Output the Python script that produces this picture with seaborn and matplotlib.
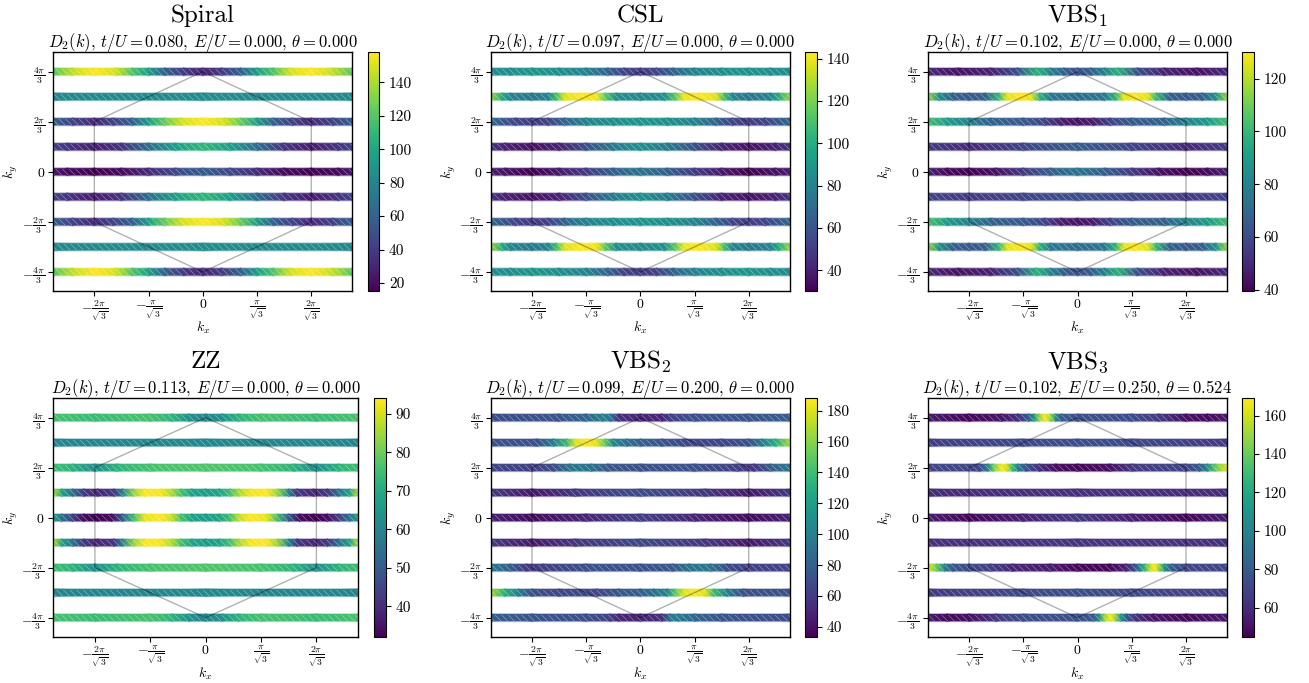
import numpy as np
import matplotlib
matplotlib.use("Agg")
import matplotlib.pyplot as plt
import seaborn as sns
from matplotlib.colors import Normalize
from matplotlib.patches import Rectangle
from matplotlib.cm import ScalarMappable
from matplotlib.ticker import FuncFormatter, MultipleLocator

# ---------------- data ----------------
U = np.pi / np.sqrt(3)          # kx unit used for the knots below (pi/sqrt(3))
ky_values = [4*np.pi/3, np.pi, 2*np.pi/3, np.pi/3, 0.0, -np.pi/3, -2*np.pi/3, -np.pi, -4*np.pi/3]

panel_names = ["Spiral", "CSL", "VBS$_1$", "ZZ", "VBS$_2$", "VBS$_3$"]
t_over_U = [0.080, 0.097, 0.102, 0.113, 0.099, 0.102]
E_over_U = [0.000, 0.000, 0.000, 0.000, 0.200, 0.250]
theta = [0.000, 0.000, 0.000, 0.000, 0.000, 0.524]
color_ranges = [(15, 158), (30, 143), (39.4, 130), (32, 94), (33.5, 188), (44.7, 169)]
cbar_tick_steps = [20, 20, 20, 10, 20, 20]

x_tick_pos = [-2*U, -U, 0, U, 2*U]
x_tick_labels = [r"$-\frac{2\pi}{\sqrt{3}}$", r"$-\frac{\pi}{\sqrt{3}}$", r"$0$",
                 r"$\frac{\pi}{\sqrt{3}}$", r"$\frac{2\pi}{\sqrt{3}}$"]
y_tick_pos = [4*np.pi/3, 2*np.pi/3, 0, -2*np.pi/3, -4*np.pi/3]
y_tick_labels = [r"$\frac{4\pi}{3}$", r"$\frac{2\pi}{3}$", r"$0$",
                 r"$-\frac{2\pi}{3}$", r"$-\frac{4\pi}{3}$"]

hex_kx = [0, 2*U, 2*U, 0, -2*U, -2*U, 0]
hex_ky = [4*np.pi/3, 2*np.pi/3, -2*np.pi/3, -4*np.pi/3, -2*np.pi/3, 2*np.pi/3, 4*np.pi/3]

# rows: (kx in units of pi/sqrt(3), D2 value)
s0 = [(-2.76,120),(-2.4,145),(-2.0,158),(-1.6,148),(-1.3,118),(-1.0,95),(-0.7,59),(-0.35,40),(0,30),
      (0.35,40),(0.7,59),(1.0,95),(1.3,118),(1.6,148),(2.0,158),(2.4,145),(2.76,120)]
s1 = [(-2.76,82),(0,84),(2.76,82)]
s2 = [(-2.76,59),(-2.4,44),(-2.0,32),(-1.65,44),(-1.3,59),(-1.0,95),(-0.7,124),(-0.4,148),(0,158),
      (0.4,148),(0.7,124),(1.0,95),(1.3,59),(1.65,44),(2.0,32),(2.4,44),(2.76,59)]
s3 = [(-2.76,44),(-2.5,37),(-2.0,27),(-1.5,37),(-1.0,66),(-0.5,95),(0,109),(0.5,95),(1.0,66),
      (1.5,37),(2.0,27),(2.5,37),(2.76,44)]
s4 = [(-2.76,25),(-2.5,19),(-2.0,15),(-1.5,19),(-1.0,32),(-0.5,47),(0,56),(0.5,47),(1.0,32),
      (1.5,19),(2.0,15),(2.5,19),(2.76,25)]
spiral_rows = [s0, s1, s2, s3, s4, s3, s2, s1, s0]

c0 = [(-2.76,84),(-2.4,86),(-2.0,89),(-1.5,86),(-1.0,81),(-0.6,66),(-0.3,53),(0,50),(0.3,53),
      (0.6,66),(1.0,81),(1.5,86),(2.0,89),(2.4,86),(2.76,84)]
c1 = [(-2.76,125),(-2.55,98),(-2.4,81),(-2.0,75),(-1.7,81),(-1.55,109),(-1.4,137),(-1.1,143),
      (-0.8,140),(-0.65,115),(-0.45,86),(0,83),(0.45,86),(0.65,115),(0.8,140),(1.1,143),(1.4,137),
      (1.55,109),(1.7,81),(2.0,75),(2.4,81),(2.55,98),(2.76,125)]
c2 = [(-2.76,68),(-2.3,53),(-2.0,50),(-1.7,53),(-1.4,66),(-1.0,81),(-0.5,86),(0,89),(0.5,86),
      (1.0,81),(1.4,66),(1.7,53),(2.0,50),(2.3,53),(2.76,68)]
c3 = [(-2.76,47),(-2.5,41),(-2.0,36),(-1.5,41),(-1.0,58),(-0.5,77),(0,86),(0.5,77),(1.0,58),
      (1.5,41),(2.0,36),(2.5,41),(2.76,47)]
c4 = [(-2.76,39),(-2.5,36),(-2.0,30),(-1.5,38),(-1.0,50),(-0.5,64),(0,73),(0.5,64),(1.0,50),
      (1.5,38),(2.0,30),(2.5,36),(2.76,39)]
csl_rows = [c0, c1, c2, c3, c4, c3, c2, c1, c0]

b0 = [(-2.76,50),(-2.2,44),(-1.6,48),(-1.1,62),(-0.75,98),(-0.5,80),(-0.25,67),(0,62),(0.25,67),
      (0.5,80),(0.75,98),(1.1,62),(1.6,48),(2.2,44),(2.76,50)]
b1 = [(-2.76,116),(-2.55,85),(-2.3,67),(-2.0,64),(-1.7,67),(-1.45,100),(-1.3,126),(-1.05,130),
      (-0.85,126),(-0.7,98),(-0.5,76),(0,71),(0.5,76),(0.7,98),(0.85,126),(1.05,130),(1.3,126),
      (1.45,100),(1.7,67),(2.0,64),(2.3,67),(2.55,85),(2.76,116)]
b2 = [(-2.76,103),(-2.4,89),(-2.0,80),(-1.6,68),(-1.0,65),(-0.6,58),(-0.3,47),(0,44),(0.3,47),
      (0.6,58),(1.0,65),(1.6,68),(2.0,80),(2.4,89),(2.76,103)]
b3 = [(-2.76,55),(-2.0,50),(-1.0,58),(0,66),(1.0,58),(2.0,50),(2.76,55)]
b4 = [(-2.76,48),(-2.4,42),(-2.0,39),(-1.5,44),(-1.0,55),(-0.5,67),(0,74),(0.5,67),(1.0,55),
      (1.5,44),(2.0,39),(2.4,42),(2.76,48)]
b5 = [(-2.76,58),(-2.0,55),(-1.0,58),(0,62),(1.0,58),(2.0,55),(2.76,58)]
vbs1_rows = [b0, b1, b2, b3, b4, b5, b2, b1, b0]

z0 = [(-2.76,76),(-2.0,74),(-1.0,76),(-0.6,72),(-0.3,63),(0,60),(0.3,63),(0.6,72),(1.0,76),
      (2.0,74),(2.76,76)]
z1 = [(-2.76,60),(0,61),(2.76,60)]
z2 = [(-2.76,75),(-2.4,72),(-2.0,62),(-1.6,72),(-1.0,76),(0,77),(1.0,76),(1.6,72),(2.0,62),
      (2.4,72),(2.76,75)]
z3 = [(-2.76,88),(-2.6,68),(-2.4,55),(-2.2,42),(-1.95,39),(-1.65,42),(-1.5,60),(-1.3,84),(-1.1,94),
      (-0.8,93),(-0.6,86),(-0.45,76),(-0.25,68),(0,66),(0.25,68),(0.45,76),(0.6,86),(0.8,93),
      (1.1,94),(1.3,84),(1.5,60),(1.65,42),(1.95,39),(2.2,42),(2.4,55),(2.6,68),(2.76,88)]
z4 = [(-2.76,68),(-2.6,55),(-2.4,44),(-2.2,34),(-1.95,32),(-1.7,34),(-1.5,50),(-1.3,75),(-1.1,92),
      (-0.8,94),(-0.6,88),(-0.45,76),(-0.25,68),(0,66),(0.25,68),(0.45,76),(0.6,88),(0.8,94),
      (1.1,92),(1.3,75),(1.5,50),(1.7,34),(1.95,32),(2.2,34),(2.4,44),(2.6,55),(2.76,68)]
zz_rows = [z0, z1, z2, z3, z4, z3, z2, z1, z0]

v0 = [(-2.76,70),(-1.5,74),(-1.0,84),(-0.7,100),(-0.55,95),(-0.4,55),(0,48),(0.4,50),(0.55,64),
      (1.0,72),(2.0,74),(2.76,80)]
v1 = [(-2.76,72),(-1.9,72),(-1.6,100),(-1.35,140),(-1.2,180),(-1.0,188),(-0.8,180),(-0.65,150),
      (-0.5,105),(-0.25,90),(0,80),(0.4,75),(0.8,67),(1.5,66),(2.0,72),(2.25,100),(2.5,130),(2.76,168)]
v2 = [(-2.76,66),(-2.0,62),(-1.6,70),(-1.3,95),(-0.9,92),(-0.6,76),(0,72),(1.0,72),(1.8,62),
      (2.1,58),(2.4,80),(2.76,96)]
v3 = [(-2.76,60),(-2.0,44),(-1.2,58),(0,70),(1.2,58),(2.0,44),(2.76,60)]
v4 = [(-2.76,48),(-2.0,38),(-1.0,50),(0,62),(1.0,50),(2.0,38),(2.76,48)]
v5 = [(-2.76,60),(-2.0,44),(-1.2,58),(0,68),(1.2,58),(2.0,44),(2.76,60)]
v6 = [(-2.76,96),(-2.4,80),(-2.1,58),(-1.8,62),(-1.0,72),(0,72),(0.6,76),(0.9,92),(1.3,95),
      (1.6,70),(2.0,62),(2.76,66)]
v7 = [(-2.76,168),(-2.5,130),(-2.25,100),(-2.0,72),(-1.5,66),(-0.8,67),(-0.4,75),(0,80),(0.25,90),
      (0.5,105),(0.65,150),(0.8,180),(1.0,188),(1.2,180),(1.35,140),(1.6,100),(1.9,72),(2.76,72)]
v8 = [(-2.76,80),(-2.0,74),(-1.0,72),(-0.55,64),(-0.4,50),(0,48),(0.4,55),(0.55,95),(0.7,100),
      (1.0,84),(1.5,74),(2.76,70)]
vbs2_rows = [v0, v1, v2, v3, v4, v5, v6, v7, v8]

w0 = [(-2.76,54),(-2.0,47),(-1.4,52),(-1.1,62),(-0.9,80),(-0.8,110),(-0.7,150),(-0.6,169),
      (-0.5,150),(-0.4,105),(-0.3,80),(0,76),(1.0,74),(1.5,66),(2.0,50),(2.4,48),(2.76,54)]
w1 = [(-2.76,68),(-1.0,72),(0,74),(1.0,72),(2.76,66)]
w2 = [(-2.76,70),(-1.8,70),(-1.65,100),(-1.55,140),(-1.4,169),(-1.3,160),(-1.2,130),(-1.1,100),
      (-0.95,78),(-0.7,62),(-0.4,50),(0,47),(0.6,50),(1.0,66),(2.0,70),(2.25,80),(2.4,105),
      (2.55,140),(2.76,165)]
w3 = [(-2.76,60),(0,62),(2.76,60)]
w4 = [(-2.76,55),(-2.0,47),(-1.0,56),(0,66),(1.0,56),(2.0,47),(2.76,55)]
w5 = [(-2.76,62),(0,64),(2.76,62)]
w6 = [(-2.76,165),(-2.6,140),(-2.45,100),(-2.3,78),(-2.0,72),(-1.6,68),(-1.2,58),(-0.5,54),(0,47),
      (0.6,47),(0.9,58),(1.05,75),(1.15,100),(1.25,130),(1.35,160),(1.42,169),(1.5,150),(1.6,110),
      (1.75,80),(2.0,70),(2.76,70)]
w7 = [(-2.76,66),(-1.0,72),(0,74),(1.0,72),(2.76,68)]
w8 = [(-2.76,54),(-2.4,48),(-2.0,50),(-1.5,66),(-1.0,74),(0,76),(0.3,80),(0.4,105),(0.5,150),
      (0.6,169),(0.7,150),(0.8,110),(0.9,80),(1.1,62),(1.4,52),(2.0,47),(2.76,54)]
vbs3_rows = [w0, w1, w2, w3, w4, w5, w6, w7, w8]

all_rows = [spiral_rows, csl_rows, vbs1_rows, zz_rows, vbs2_rows, vbs3_rows]

# ---------------- style ----------------
sns.set_style("ticks", {"axes.edgecolor": "black", "xtick.color": "black",
                        "ytick.color": "black", "text.color": "black",
                        "axes.labelcolor": "black"})
plt.rcParams["font.family"] = ["cmr10", "DejaVu Serif"]
plt.rcParams["mathtext.fontset"] = "cm"
plt.rcParams["axes.formatter.use_mathtext"] = True
plt.rcParams["hatch.linewidth"] = 0.5
plt.rcParams["axes.linewidth"] = 1.0

cmap = sns.color_palette("viridis", as_cmap=True)

W, H = 1309, 683
fig = plt.figure(figsize=(W/100, H/100), dpi=100)

top_y = (52.3, 291.3)
bot_y = (398.3, 637.0)
layout = [
    ((53.3, 352.3), (367.7, 379.3), top_y),
    ((491.0, 789.7), (805.0, 817.0), top_y),
    ((928.0, 1227.0), (1242.0, 1254.0), top_y),
    ((53.0, 358.3), (373.5, 385.5), bot_y),
    ((491.0, 789.7), (805.0, 817.0), bot_y),
    ((928.0, 1227.0), (1242.0, 1254.0), bot_y),
]

def frac_box(x0, x1, ys):
    return [x0/W, 1 - ys[1]/H, (x1-x0)/W, (ys[1]-ys[0])/H]

int_fmt = FuncFormatter(lambda x, p: "%d" % round(x))

for i in range(6):
    (ax_x, cb_x, ys) = layout[i]
    ax = fig.add_axes(frac_box(ax_x[0], ax_x[1], ys))
    cax = fig.add_axes(frac_box(cb_x[0], cb_x[1], ys))
    vmin, vmax = color_ranges[i]
    norm = Normalize(vmin=vmin, vmax=vmax)

    for ky, row in zip(ky_values, all_rows[i]):
        kx = np.array([p[0] for p in row]) * U
        val = np.array([p[1] for p in row], dtype=float)
        C = np.vstack([val, val])
        X = np.vstack([kx, kx])
        for half, alpha in ((0.17, 0.35), (0.13, 1.0)):
            Y = np.vstack([np.full_like(kx, ky - half), np.full_like(kx, ky + half)])
            ax.pcolormesh(X, Y, C, shading="gouraud", cmap=cmap, norm=norm,
                          alpha=alpha, zorder=1)
        ax.add_patch(Rectangle((-6, ky - 0.13), 12, 0.26, facecolor="none",
                               edgecolor=(1, 1, 1, 0.4), hatch="\\\\\\\\\\",
                               linewidth=0, zorder=1.5))

    sns.lineplot(x=hex_kx, y=hex_ky, sort=False, estimator=None, color="black",
                 alpha=0.3, linewidth=1.0, ax=ax, zorder=3)

    ax.set_xlim(-5, 5)
    ax.set_ylim(-5, 5)
    ax.set_xticks(x_tick_pos)
    ax.set_xticklabels(x_tick_labels, fontsize=10)
    ax.set_yticks(y_tick_pos)
    ax.set_yticklabels(y_tick_labels, fontsize=10)
    ax.tick_params(axis="x", pad=1.5)
    ax.tick_params(axis="y", pad=2.5)
    ax.set_xlabel(r"$k_x$", fontsize=10)
    ax.xaxis.set_label_coords(0.5, -0.118)
    ax.set_ylabel(r"$k_y$", fontsize=10, labelpad=1)
    for sp in ax.spines.values():
        sp.set_visible(True)
        sp.set_linewidth(1.0)

    ax.annotate(panel_names[i], xy=(0.5, 1.0), xycoords="axes fraction",
                xytext=(0, 21.5), textcoords="offset points",
                ha="center", va="baseline", fontsize=18)
    sub = (r"$D_2(k)$, $t/U = %.3f$, $E/U = %.3f$, $\theta = %.3f$"
           % (t_over_U[i], E_over_U[i], theta[i]))
    ax.annotate(sub, xy=(0.5, 1.0), xycoords="axes fraction",
                xytext=(0, 3.5), textcoords="offset points",
                ha="center", va="baseline", fontsize=12)

    cb = fig.colorbar(ScalarMappable(norm=norm, cmap=cmap), cax=cax)
    cb.ax.yaxis.set_major_locator(MultipleLocator(cbar_tick_steps[i]))
    cb.ax.yaxis.set_major_formatter(int_fmt)
    cb.ax.tick_params(labelsize=11, length=3.5, width=0.8)
    cb.outline.set_linewidth(0.8)

fig.savefig("out.png", dpi=100)
